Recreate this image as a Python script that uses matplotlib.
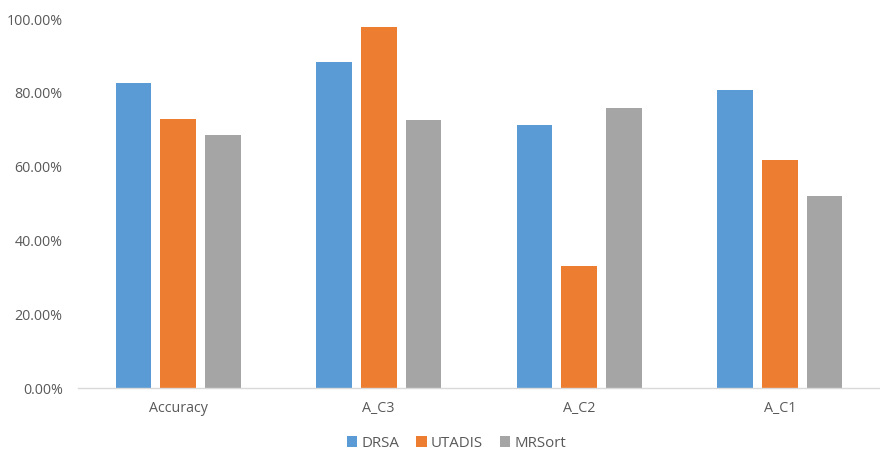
import matplotlib
matplotlib.use("Agg")
import matplotlib.pyplot as plt
import numpy as np
from matplotlib.ticker import FuncFormatter

categories = ["Accuracy", "A_C3", "A_C2", "A_C1"]
series_names = ["DRSA", "UTADIS", "MRSort"]
drsa = [82.7, 88.5, 71.3, 80.8]
utadis = [73.0, 97.8, 33.1, 61.8]
mrsort = [68.5, 72.7, 76.0, 52.0]
colors = ["#5B9BD5", "#ED7D31", "#A5A5A5"]

plt.rcParams["font.family"] = ["Open Sans", "DejaVu Sans"]
text_color = "#595959"

fig = plt.figure(figsize=(8.8, 4.55), dpi=100)
ax = fig.add_axes([0.0886, 0.147, 0.9114, 0.811])

x = np.arange(len(categories))
width = 0.178
step = 0.223
for i, (vals, name, c) in enumerate(zip([drsa, utadis, mrsort], series_names, colors)):
    ax.bar(x + (i - 1) * step, vals, width, color=c, label=name)

ax.set_xlim(-0.5, len(categories) - 0.5)
ax.set_ylim(0, 100)
ax.set_yticks(np.arange(0, 101, 20))
ax.yaxis.set_major_formatter(FuncFormatter(lambda v, p: f"{v:.2f}%"))
ax.set_xticks(x)
ax.set_xticklabels(categories)

for s in ["top", "right", "left"]:
    ax.spines[s].set_visible(False)
ax.spines["bottom"].set_color("#D9D9D9")
ax.spines["bottom"].set_linewidth(1.0)
ax.tick_params(axis="both", length=0, labelsize=10.3, colors=text_color)
ax.tick_params(axis="x", pad=9)
ax.tick_params(axis="y", pad=11)

leg = ax.legend(loc="upper center", bbox_to_anchor=(0.472, -0.105), ncol=3,
                frameon=False, fontsize=10.8, handlelength=0.7, handleheight=0.7,
                handletextpad=0.3, columnspacing=1.1, borderpad=0.1)
for t in leg.get_texts():
    t.set_color(text_color)

fig.savefig("out.png", dpi=100)
